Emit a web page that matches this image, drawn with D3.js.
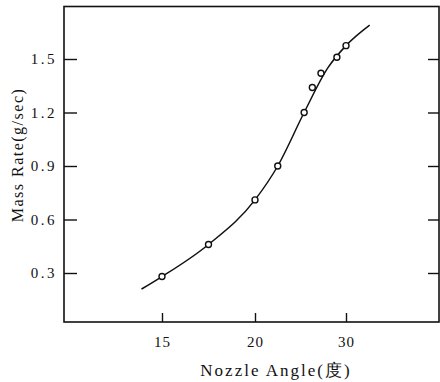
<!DOCTYPE html>
<html>
<head>
<meta charset="utf-8">
<script src="https://cdn.jsdelivr.net/npm/d3@7"></script>
<style>
  html, body { margin: 0; padding: 0; background: #fff; }
  svg { display: block; }
  text { font-family: "Liberation Serif", "DejaVu Serif", serif; fill: #111; }
</style>
</head>
<body>
<script>
// Measured points: nozzle angle (deg) vs mass rate (g/sec)
const angles = [15, 17.5, 20, 22.5, 25.4, 26.3, 27.25, 29, 30];
const rates  = [0.28, 0.46, 0.71, 0.90, 1.20, 1.34, 1.42, 1.51, 1.575];

// Faired curve through the measurements
const curveAngles = [13.9, 15, 17.5, 20, 22.5, 25.4, 28, 30, 32.6];
const curveRates  = [0.21, 0.28, 0.46, 0.71, 0.90, 1.20, 1.45, 1.575, 1.69];

// Axis ticks
const xTicks = [15, 20, 30];
const yTicks = [0.3, 0.6, 0.9, 1.2, 1.5];

const W = 440, H = 382;
const frame = { left: 64, top: 6.5, right: 439, bottom: 322 };

const svg = d3.select("body").append("svg")
  .attr("width", W).attr("height", H);

// Angle axis is drawn with uneven spacing between its labelled ticks
const x = d3.scaleLinear().domain([15, 20, 30]).range([162, 255, 346]);
const y = d3.scaleLinear().domain([0.3, 1.5]).range([273, 59]);

// Frame
svg.append("rect")
  .attr("x", frame.left).attr("y", frame.top)
  .attr("width", frame.right - frame.left)
  .attr("height", frame.bottom - frame.top)
  .attr("fill", "none").attr("stroke", "#111").attr("stroke-width", 1.6);

// Left axis: ticks point inward, labels outside
const yAxis = svg.append("g")
  .attr("transform", `translate(${frame.left},0)`)
  .call(d3.axisLeft(y).tickValues(yTicks).tickFormat(d3.format(".1f"))
    .tickSizeInner(-13).tickSizeOuter(0).tickPadding(7));
yAxis.select(".domain").remove();
yAxis.selectAll(".tick line").attr("stroke", "#111").attr("stroke-width", 1.4);
yAxis.selectAll(".tick text")
  .attr("font-size", 15)
  .attr("letter-spacing", 2.5)
  .style("font-family", "Liberation Serif, serif");

// Right side tick marks (no labels)
const yRight = svg.append("g")
  .attr("transform", `translate(${frame.right},0)`)
  .call(d3.axisRight(y).tickValues(yTicks).tickFormat("")
    .tickSizeInner(-11).tickSizeOuter(0));
yRight.select(".domain").remove();
yRight.selectAll(".tick line").attr("stroke", "#111").attr("stroke-width", 1.4);

// Bottom axis: ticks point up into the plot
const xAxis = svg.append("g")
  .attr("transform", `translate(0,${frame.bottom})`)
  .call(d3.axisBottom(x).tickValues(xTicks).tickFormat(d3.format("d"))
    .tickSizeInner(-9).tickSizeOuter(0).tickPadding(14));
xAxis.select(".domain").remove();
xAxis.selectAll(".tick line").attr("stroke", "#111").attr("stroke-width", 1.4);
xAxis.selectAll(".tick text")
  .attr("font-size", 15)
  .attr("letter-spacing", 1)
  .style("font-family", "Liberation Serif, serif");

// Axis titles
svg.append("text")
  .attr("x", 276).attr("y", 376)
  .attr("text-anchor", "middle")
  .attr("font-size", 17)
  .attr("letter-spacing", 2)
  .text("Nozzle Angle(度)");

svg.append("text")
  .attr("transform", "translate(23,155) rotate(-90)")
  .attr("text-anchor", "middle")
  .attr("font-size", 16)
  .attr("letter-spacing", 1.5)
  .text("Mass Rate(g/sec)");

// Curve
const line = d3.line()
  .x((d, i) => x(curveAngles[i]))
  .y((d, i) => y(curveRates[i]))
  .curve(d3.curveMonotoneX);

svg.append("path")
  .datum(curveAngles)
  .attr("d", line)
  .attr("fill", "none")
  .attr("stroke", "#111")
  .attr("stroke-width", 1.5);

// Markers
svg.append("g").selectAll("circle")
  .data(angles)
  .join("circle")
  .attr("cx", d => x(d))
  .attr("cy", (d, i) => y(rates[i]))
  .attr("r", 3)
  .attr("fill", "#fff")
  .attr("stroke", "#111")
  .attr("stroke-width", 1.4);
</script>
</body>
</html>
